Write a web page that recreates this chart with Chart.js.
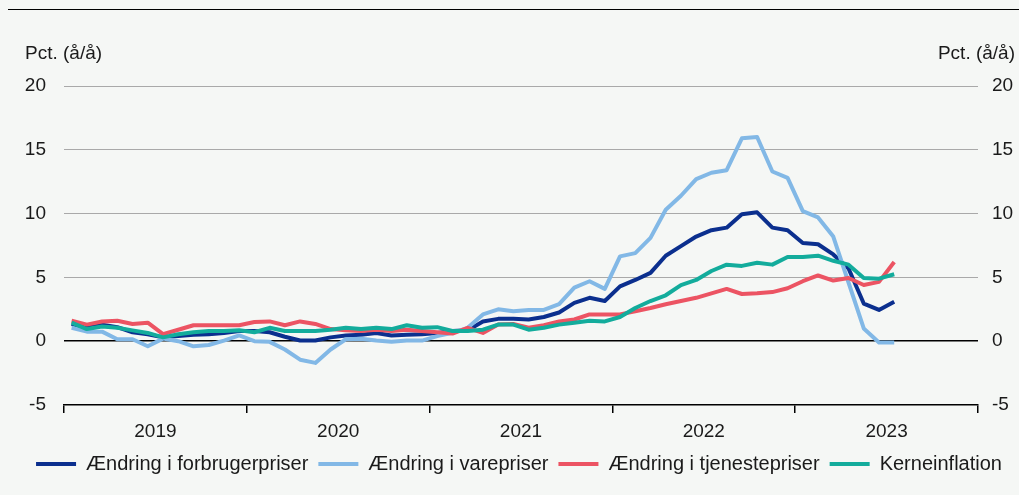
<!DOCTYPE html>
<html>
<head>
<meta charset="utf-8">
<script src="https://cdn.jsdelivr.net/npm/chart.js@4.4.1/dist/chart.umd.min.js"></script>
<style>
  html, body { margin: 0; padding: 0; background: #f5f7f5; }
  #wrap { position: relative; width: 1019px; height: 495px; }
  #topline { position: absolute; left: 8px; right: 0; top: 9px; border-top: 1.5px solid #000; }
  canvas { position: absolute; left: 0; top: 0; }
</style>
</head>
<body>
<div id="wrap">
  <div id="topline"></div>
  <canvas id="chart" width="1019" height="495"></canvas>
</div>
<script>
/*
    Inflation, monthly from Jan 2019, pct. y/y
*/
const years = ['2019', '2020', '2021', '2022', '2023'];
const seriesNames = ['Ændring i forbrugerpriser', 'Ændring i varepriser', 'Ændring i tjenestepriser', 'Kerneinflation'];

const cpi = [1.35, 1.05, 1.3, 1.1, 0.7, 0.55, 0.3, 0.4, 0.5, 0.55, 0.65, 0.8,
    0.8, 0.7, 0.35, 0.05, 0.05, 0.3, 0.45, 0.5, 0.65, 0.45, 0.5, 0.55,
    0.65, 0.8, 0.85, 1.55, 1.75, 1.75, 1.7, 1.9, 2.25, 3.0, 3.4, 3.15,
    4.3, 4.8, 5.35, 6.7, 7.45, 8.2, 8.7, 8.9, 9.95, 10.1, 8.9, 8.7,
    7.7, 7.6, 6.8, 5.7, 2.95, 2.45, 3.1];
const goods = [1.05, 0.75, 0.75, 0.15, 0.15, -0.4, 0.2, 0.0, -0.4, -0.3, 0.05, 0.45,
    0.0, -0.05, -0.65, -1.45, -1.7, -0.65, 0.15, 0.2, 0.05, -0.05, 0.05, 0.05,
    0.4, 0.65, 1.05, 2.1, 2.5, 2.35, 2.45, 2.45, 2.9, 4.2, 4.7, 4.1,
    6.65, 6.9, 8.1, 10.3, 11.4, 12.7, 13.2, 13.4, 15.9, 16.0, 13.3, 12.8,
    10.2, 9.7, 8.2, 4.6, 1.0, -0.1, -0.1];
const services = [1.6, 1.3, 1.55, 1.6, 1.35, 1.45, 0.55, 0.9, 1.25, 1.25, 1.25, 1.25,
    1.5, 1.55, 1.25, 1.55, 1.35, 0.95, 0.85, 0.8, 0.9, 0.8, 0.9, 0.8,
    0.7, 0.6, 1.05, 0.65, 1.3, 1.35, 1.05, 1.25, 1.55, 1.7, 2.1, 2.1,
    2.1, 2.35, 2.6, 2.9, 3.15, 3.4, 3.75, 4.1, 3.7, 3.75, 3.85, 4.15,
    4.7, 5.15, 4.75, 4.95, 4.4, 4.65, 6.2];
const core = [1.45, 0.95, 1.15, 1.05, 0.85, 0.65, 0.3, 0.55, 0.7, 0.8, 0.8, 0.85,
    0.7, 1.05, 0.8, 0.8, 0.8, 0.9, 1.05, 0.95, 1.05, 0.95, 1.25, 1.05,
    1.1, 0.8, 0.8, 0.9, 1.3, 1.3, 0.9, 1.05, 1.3, 1.45, 1.6, 1.55,
    1.9, 2.6, 3.15, 3.6, 4.4, 4.8, 5.5, 6.0, 5.9, 6.15, 6.0, 6.6,
    6.6, 6.7, 6.3, 6.0, 4.95, 4.9, 5.25];

const colors = ['#0b2f8e', '#82b8e6', '#ec5463', '#13ac9c'];
const allSeries = [cpi, goods, services, core];

// month index on x, so the axis can run to the end of 2023
const toPoints = arr => arr.map((v, i) => ({ x: i, y: v }));

const fontFamily = '"Liberation Sans", Arial, sans-serif';
Chart.defaults.font.family = fontFamily;
Chart.defaults.font.size = 19;
Chart.defaults.color = '#1a1a1a';

// "Pct. (å/å)" over both y axes
const axisTitles = {
    id: 'axisTitles',
    afterDraw(chart) {
        const { ctx, chartArea } = chart;
        ctx.save();
        ctx.font = '19px ' + fontFamily;
        ctx.fillStyle = '#1a1a1a';
        ctx.textBaseline = 'alphabetic';
        ctx.textAlign = 'left';
        ctx.fillText('Pct. (å/å)', 25, 59);
        ctx.textAlign = 'right';
        ctx.fillText('Pct. (å/å)', chartArea.right + 37, 59);
        ctx.restore();
    }
};

const ctx = document.getElementById('chart').getContext('2d');
const myChart = new Chart(ctx, {
    type: 'line',
    data: {
        datasets: allSeries.map((s, i) => ({
            label: seriesNames[i],
            data: toPoints(s),
            borderColor: colors[i],
            backgroundColor: colors[i],
            borderWidth: 4,
            pointRadius: 0,
            tension: 0,
            borderJoinStyle: 'round',
            order: 4 - i // later series on top
        }))
    },
    options: {
        animation: false,
        responsive: false,
        devicePixelRatio: 1,
        layout: { padding: { top: 86, left: 25, right: 6, bottom: 11 } },
        plugins: {
            tooltip: { enabled: false },
            legend: {
                position: 'bottom',
                labels: {
                    font: { size: 20 },
                    boxWidth: 40,
                    boxHeight: 4,
                    padding: 10,
                    sort: (a, b) => a.datasetIndex - b.datasetIndex,
                    generateLabels: chart => Chart.defaults.plugins.legend.labels.generateLabels(chart)
                        .map(l => ({ ...l, lineWidth: 0, fillStyle: colors[l.datasetIndex] }))
                }
            }
        },
        scales: {
            x: {
                type: 'linear',
                min: -0.5,
                max: 59.5,
                afterBuildTicks: s => {
                    // tick marks on the year boundaries
                    s.ticks = years.concat(['']).map((_, i) => ({ value: i * 12 - 0.5 }));
                },
                ticks: { display: false },
                grid: { drawOnChartArea: false, color: '#000', tickLength: 8, lineWidth: 1.5 },
                border: { color: '#000', width: 1.5 }
            },
            xYear: {
                type: 'linear',
                position: 'bottom',
                min: -0.5,
                max: 59.5,
                afterBuildTicks: s => {
                    s.ticks = years.map((_, i) => ({ value: i * 12 + 5.5 }));
                },
                afterFit: s => { s.height = 31; },
                ticks: {
                    autoSkip: false,
                    maxRotation: 0,
                    padding: 7,
                    callback: v => years[Math.round((v - 5.5) / 12)]
                },
                grid: { display: false, drawTicks: false },
                border: { display: false }
            },
            y: {
                min: -5,
                max: 20,
                afterFit: s => { s.width = 39; },
                ticks: { stepSize: 5, padding: 18 },
                grid: {
                    drawTicks: false,
                    color: c => c.tick.value === 0 ? '#000' : (c.tick.value === -5 ? 'rgba(0,0,0,0)' : '#a9a9a9'),
                    lineWidth: c => c.tick.value === 0 ? 1.5 : 1
                },
                border: { display: false }
            },
            y2: {
                position: 'right',
                min: -5,
                max: 20,
                afterFit: s => { s.width = 35; },
                ticks: { stepSize: 5, padding: 14 },
                grid: { display: false, drawTicks: false },
                border: { display: false }
            }
        }
    },
    plugins: [axisTitles]
});
</script>
</body>
</html>
